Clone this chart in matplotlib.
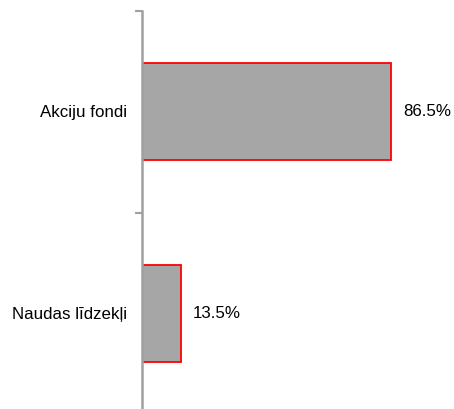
import matplotlib
matplotlib.use("Agg")
import matplotlib.pyplot as plt

categories = ["Akciju fondi", "Naudas līdzekļi"]
values = [86.5, 13.5]
value_labels = ["86.5%", "13.5%"]

plt.rcParams['font.family'] = ['Liberation Sans', 'DejaVu Sans']

fig = plt.figure(figsize=(4.54, 4.09), dpi=100)
ax = fig.add_axes([142/454, -5.5/409, 288/454, 404/409])

y = list(range(len(categories)))
ax.barh(y, values, height=0.48, color='#a6a6a6', edgecolor='#ff0000', linewidth=1.3)
ax.set_xlim(0, 100)
ax.set_ylim(1.5, -0.5)

ax.set_yticks(y)
ax.set_yticklabels(categories, fontsize=12.2)
ax.tick_params(axis='y', which='major', length=0, pad=10.8)
ax.set_yticks([-0.5, 0.5, 1.5], minor=True)
ax.tick_params(axis='y', which='minor', length=5, width=1.5, color='#a0a0a0')
ax.set_xticks([])

for s in ['top', 'right', 'bottom']:
    ax.spines[s].set_visible(False)
ax.spines['left'].set_color('#a0a0a0')
ax.spines['left'].set_linewidth(1.8)

for yi, v, lab in zip(y, values, value_labels):
    ax.annotate(lab, xy=(v, yi), xytext=(12, 0), textcoords='offset pixels',
                va='center', ha='left', fontsize=12.2)

fig.savefig("out.png", dpi=100)
